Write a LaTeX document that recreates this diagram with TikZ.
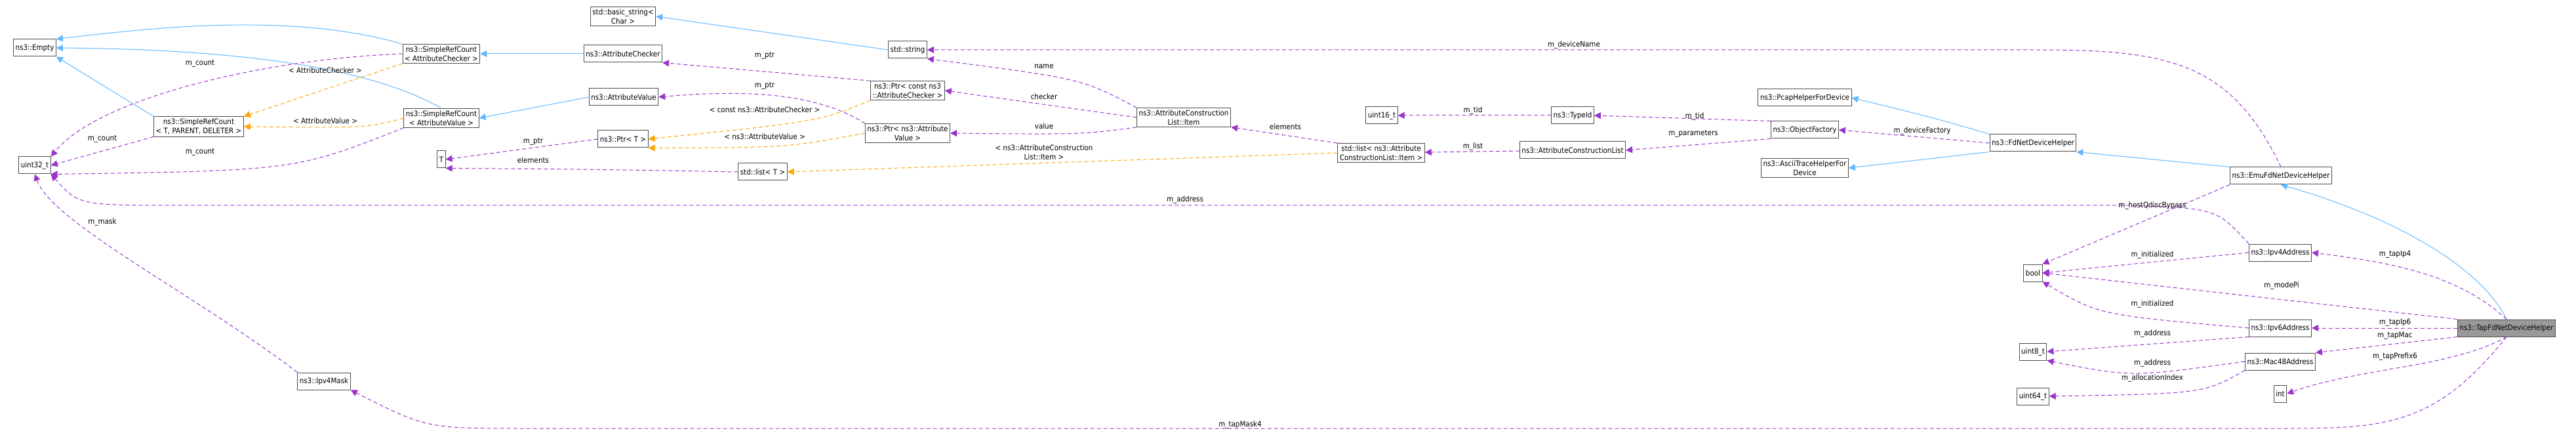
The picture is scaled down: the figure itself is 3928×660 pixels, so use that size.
\documentclass[tikz,border=0pt]{standalone}
\usepackage{fontspec}
\setmainfont{DejaVu Sans Condensed}
\usetikzlibrary{arrows.meta}
\definecolor{inhblue}{HTML}{63B8FF}
\definecolor{deppurple}{HTML}{9A32CD}
\definecolor{tmplorange}{HTML}{FFA500}
\tikzset{
  box/.style={draw=gray!60!black, fill=white, line width=1pt, inner sep=3pt, minimum height=26pt, align=center, font=\fontsize{11.5}{14}\selectfont},
  hot/.style={box, fill=gray!80},
  inh/.style={color=inhblue, line width=1pt, -{Triangle[length=10pt,width=10pt]}},
  dep/.style={color=deppurple, line width=1pt, dashed, dash pattern=on 6pt off 4pt, -{Triangle[length=10pt,width=10pt]}},
  tmpl/.style={color=tmplorange, line width=1pt, dashed, dash pattern=on 6pt off 4pt, -{Triangle[length=10pt,width=10pt]}},
  lbl/.style={font=\fontsize{11.5}{14}\selectfont, inner sep=0pt, align=center}
}
\begin{document}
\begin{tikzpicture}[x=1pt,y=-1pt]

	\useasboundingbox (0,0) rectangle (3928,660);

	% classes

	\node[box] (empty) at (53,73) {ns3::Empty};
	\node[box] (uint32) at (53,252) {uint32\_t};
	\node[box] (srcchk) at (673,82) {ns3::SimpleRefCount\\< AttributeChecker >};
	\node[box] (srcbase) at (303,193) {ns3::SimpleRefCount\\< T, PARENT, DELETER >};
	\node[box] (srcval) at (673,180) {ns3::SimpleRefCount\\< AttributeValue >};
	\node[box] (basicstr) at (950,25) {std::basic\_string<\\Char >};
	\node[box] (attrchk) at (950,82) {ns3::AttributeChecker};
	\node[box] (attrval) at (951,148) {ns3::AttributeValue};
	\node[box] (ptrt) at (950,212) {ns3::Ptr< T >};
	\node[box] (tt) at (673,243) {T};
	\node[box] (stdstr) at (1384,76) {std::string};
	\node[box] (ptrchk) at (1384,138) {ns3::Ptr< const ns3\\::AttributeChecker >};
	\node[box] (ptrval) at (1384,203) {ns3::Ptr< ns3::Attribute\\Value >};
	\node[box] (listt) at (1163,262) {std::list< T >};
	\node[box] (item) at (1805,179) {ns3::AttributeConstruction\\List::Item};
	\node[box] (uint16) at (2107,176) {uint16\_t};
	\node[box] (typeid) at (2398,176) {ns3::TypeId};
	\node[box] (listitem) at (2106,233) {std::list< ns3::Attribute\\ConstructionList::Item >};
	\node[box] (acl) at (2398,229) {ns3::AttributeConstructionList};
	\node[box] (objfac) at (2752,198) {ns3::ObjectFactory};
	\node[box] (pcap) at (2752,149) {ns3::PcapHelperForDevice};
	\node[box] (ascii) at (2752,256) {ns3::AsciiTraceHelperFor\\Device};
	\node[box] (fdnet) at (3100,218) {ns3::FdNetDeviceHelper};
	\node[box] (emu) at (3478,268) {ns3::EmuFdNetDeviceHelper};
	\node[box] (ipv4) at (3477,385) {ns3::Ipv4Address};
	\node[box] (boolt) at (3100,416) {bool};
	\node[hot] (tapfd) at (3822,500) {ns3::TapFdNetDeviceHelper};
	\node[box] (ipv6) at (3477,500) {ns3::Ipv6Address};
	\node[box] (uint8) at (3100,536) {uint8\_t};
	\node[box] (mac48) at (3477,551) {ns3::Mac48Address};
	\node[box] (uint64) at (3100,604) {uint64\_t};
	\node[box] (intt) at (3477,600) {int};
	\node[box] (mask4) at (494,581) {ns3::Ipv4Mask};

	% inheritance

	\draw[inh] (srcchk.north west) .. controls (450,20) and (250,40) .. (empty.north east);
	\draw[inh] (srcval.north) .. controls (560,100) and (350,75) .. (empty.east);
	\draw[inh] (srcbase.north west) -- (empty.south east);
	\draw[inh] (attrchk) -- (srcchk);
	\draw[inh] (attrval.west) -- (srcval.east);
	\draw[inh] (stdstr.west) -- (basicstr.east);
	\draw[inh] (fdnet.north west) .. controls (2950,180) .. (pcap.east);
	\draw[inh] (fdnet.south west) -- (ascii.east);
	\draw[inh] (emu.north west) -- (fdnet.south east);
	\draw[inh] (tapfd.north) .. controls (3790,420) and (3680,340) .. (emu.south);

	% template arguments

	\draw[tmpl] (srcchk.south west) -- (srcbase.north east);
	\draw[tmpl] (srcval.west) .. controls (560,195) .. (srcbase.east);
	\draw[tmpl] (ptrchk.south west) .. controls (1250,185) .. (ptrt.east);
	\draw[tmpl] (ptrval.west) .. controls (1200,225) .. (ptrt.south east);
	\draw[tmpl] (listitem.west) -- (listt.east);

	% members

	\draw[dep] (srcchk.west) .. controls (400,90) and (150,150) .. (uint32.north east);
	\draw[dep] (srcbase.south west) -- (uint32.east);
	\draw[dep] (srcval.south west) .. controls (450,260) .. (uint32.south east);
	\draw[dep] (mask4.north west) .. controls (300,450) and (80,340) .. (uint32.south);
	\draw[dep] (ipv4.north west) .. controls (3380,318) .. (3250,313) -- (280,313) .. controls (120,313) .. (uint32.south east);
	\draw[dep] (ptrt.west) -- (tt.east);
	\draw[dep] (listt.west) .. controls (900,258) .. (tt.south east);
	\draw[dep] (ptrchk.north west) -- (attrchk.south east);
	\draw[dep] (ptrval.north west) .. controls (1250,145) and (1150,135) .. (attrval.east);
	\draw[dep] (item.north west) .. controls (1650,120) .. (stdstr.south east);
	\draw[dep] (item.west) -- (ptrchk.east);
	\draw[dep] (item.south west) .. controls (1650,205) .. (ptrval.east);
	\draw[dep] (listitem.north west) -- (item.south east);
	\draw[dep] (emu.north) .. controls (3400,90) and (3300,76) .. (3100,76) -- (stdstr.east);
	\draw[dep] (typeid) -- (uint16);
	\draw[dep] (objfac.north west) -- (typeid.east);
	\draw[dep] (objfac.south west) -- (acl.east);
	\draw[dep] (acl) -- (listitem);
	\draw[dep] (fdnet.west) -- (objfac.east);
	\draw[dep] (emu.south west) -- (boolt.north east);
	\draw[dep] (ipv4.west) -- (boolt.east);
	\draw[dep] (tapfd.north west) -- (boolt.east);
	\draw[dep] (ipv6.west) .. controls (3200,480) .. (boolt.south east);
	\draw[dep] (tapfd.north) .. controls (3750,420) and (3650,400) .. (ipv4.east);
	\draw[dep] (tapfd) -- (ipv6);
	\draw[dep] (ipv6.south west) -- (uint8.east);
	\draw[dep] (mac48.west) .. controls (3250,575) .. (uint8.south east);
	\draw[dep] (mac48.south west) .. controls (3360,600) .. (uint64.east);
	\draw[dep] (tapfd.south west) -- (mac48.north east);
	\draw[dep] (tapfd.south) .. controls (3740,560) and (3600,560) .. (intt.east);
	\draw[dep] (tapfd.south) .. controls (3720,640) and (3650,653) .. (3500,653) -- (800,653) .. controls (650,653) .. (mask4.south east);

	% labels

	\node[lbl] (lcount1) at (305,97) {m\_count};
	\node[lbl] (lcount2) at (156,212) {m\_count};
	\node[lbl] (lcount3) at (305,232) {m\_count};
	\node[lbl] (ltchk) at (496,107) {< AttributeChecker >};
	\node[lbl] (ltval) at (496,184) {< AttributeValue >};
	\node[lbl] (lmask) at (156,338) {m\_mask};
	\node[lbl] (lptr1) at (813,216) {m\_ptr};
	\node[lbl] (lelem1) at (813,244) {elements};
	\node[lbl] (lptr2) at (1166,85) {m\_ptr};
	\node[lbl] (lptr3) at (1166,131) {m\_ptr};
	\node[lbl] (ltcchk) at (1166,167) {< const ns3::AttributeChecker >};
	\node[lbl] (ltcval) at (1166,208) {< ns3::AttributeValue >};
	\node[lbl] (lname) at (1592,101) {name};
	\node[lbl] (lchecker) at (1592,147) {checker};
	\node[lbl] (lvalue) at (1592,192) {value};
	\node[lbl] (ltitem) at (1592,232) {< ns3::AttributeConstruction\\List::Item >};
	\node[lbl] (lelem2) at (1960,193) {elements};
	\node[lbl] (laddr1) at (1807,304) {m\_address};
	\node[lbl] (ldev) at (2400,68) {m\_deviceName};
	\node[lbl] (ltid1) at (2246,168) {m\_tid};
	\node[lbl] (ltid2) at (2584,177) {m\_tid};
	\node[lbl] (lparam) at (2582,204) {m\_parameters};
	\node[lbl] (llist) at (2246,223) {m\_list};
	\node[lbl] (lfac) at (2931,199) {m\_deviceFactory};
	\node[lbl] (lqdisc) at (3282,313) {m\_hostQdiscBypass};
	\node[lbl] (linit1) at (3282,388) {m\_initialized};
	\node[lbl] (lip4) at (3652,388) {m\_tapIp4};
	\node[lbl] (lmodepi) at (3479,435) {m\_modePi};
	\node[lbl] (linit2) at (3282,463) {m\_initialized};
	\node[lbl] (lip6) at (3652,492) {m\_tapIp6};
	\node[lbl] (laddr2) at (3282,508) {m\_address};
	\node[lbl] (lmac) at (3652,512) {m\_tapMac};
	\node[lbl] (laddr3) at (3282,553) {m\_address};
	\node[lbl] (lpref) at (3652,543) {m\_tapPrefix6};
	\node[lbl] (lalloc) at (3282,576) {m\_allocationIndex};
	\node[lbl] (lmask4) at (1891,647) {m\_tapMask4};

\end{tikzpicture}
\end{document}
